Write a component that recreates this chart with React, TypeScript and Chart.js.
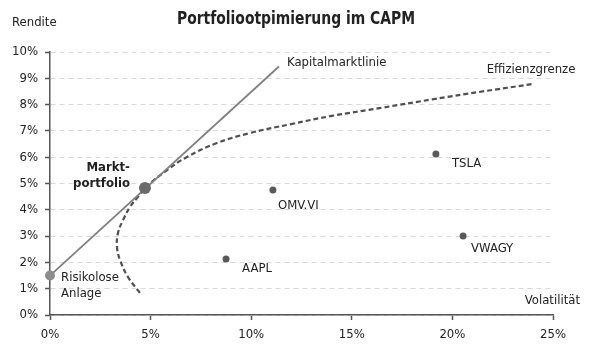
import React, { useEffect, useRef } from 'react';
import { Chart, registerables } from 'chart.js';

Chart.register(...registerables);

const FONT = '"DejaVu Sans Condensed", "DejaVu Sans", sans-serif';
const TITLE = 'Portfoliootpimierung im CAPM';

// Kapitalmarktlinie (Volatilität %, Rendite %)
const cmlX = [0, 11.38];
const cmlY = [1.5, 9.45];

// Effizienzgrenze
const frontierX = [4.47, 3.88, 3.48, 3.33, 3.38, 3.63, 3.98, 4.4, 4.72, 5.82, 6.81, 8.3, 9.94, 11.93, 14.0, 16.5, 19.0, 21.5, 23.96];
const frontierY = [0.84, 1.44, 2.09, 2.59, 3.12, 3.61, 4.11, 4.52, 4.83, 5.51, 6.01, 6.54, 6.92, 7.25, 7.57, 7.88, 8.2, 8.5, 8.78];

// Einzelaktien
const stockNames = ['AAPL', 'OMV.VI', 'TSLA', 'VWAGY'];
const stockX = [8.75, 11.08, 19.18, 20.53];
const stockY = [2.13, 4.75, 6.12, 3.0];

// Marktportfolio & risikolose Anlage
const marketX = [4.72];
const marketY = [4.83];
const riskFreeX = [0];
const riskFreeY = [1.5];

// Achsen
const xTickValues = [0, 5, 10, 15, 20, 25];
const yTickValues = [0, 1, 2, 3, 4, 5, 6, 7, 8, 9, 10];

const toPoints = (xs: number[], ys: number[]) => xs.map((x, i) => ({ x, y: ys[i] }));

type Label = { x: number; y: number; dx: number; dy: number; text: string; align: CanvasTextAlign; bold?: boolean };

const labels: Label[] = [
  { x: stockX[0], y: stockY[0], dx: 16, dy: 10, text: stockNames[0], align: 'left' },
  { x: stockX[1], y: stockY[1], dx: 5, dy: 16, text: stockNames[1], align: 'left' },
  { x: stockX[2], y: stockY[2], dx: 16, dy: 10, text: stockNames[2], align: 'left' },
  { x: stockX[3], y: stockY[3], dx: 8, dy: 13, text: stockNames[3], align: 'left' },
  { x: riskFreeX[0], y: riskFreeY[0], dx: 11, dy: 2, text: 'Risikolose', align: 'left' },
  { x: riskFreeX[0], y: riskFreeY[0], dx: 11, dy: 18, text: 'Anlage', align: 'left' },
  { x: marketX[0], y: marketY[0], dx: -15, dy: -20, text: 'Markt-', align: 'right', bold: true },
  { x: marketX[0], y: marketY[0], dx: -15, dy: -4, text: 'portfolio', align: 'right', bold: true },
  { x: cmlX[1], y: cmlY[1], dx: 8, dy: -4, text: 'Kapitalmarktlinie', align: 'left' },
  { x: frontierX[frontierX.length - 1], y: frontierY[frontierY.length - 1], dx: -1, dy: -14, text: 'Effizienzgrenze', align: 'center' },
];

const labelPlugin = {
  id: 'annotLabels',
  afterDraw(chart: any) {
    const { ctx, scales, chartArea, width } = chart;
    const xs = scales.x;
    const ys = scales.y;
    ctx.save();
    ctx.fillStyle = '#222';
    ctx.textBaseline = 'middle';
    for (const l of labels) {
      ctx.font = `${l.bold ? 'bold ' : ''}13px ${FONT}`;
      ctx.textAlign = l.align;
      ctx.fillText(l.text, xs.getPixelForValue(l.x) + l.dx, ys.getPixelForValue(l.y) + l.dy);
    }
    ctx.font = `13px ${FONT}`;
    ctx.textAlign = 'left';
    ctx.fillText('Rendite', 12, chartArea.top - 29);
    ctx.textAlign = 'right';
    ctx.fillText('Volatilität', chartArea.right + 27, chartArea.bottom - 14);
    // title
    ctx.font = `bold 17px ${FONT}`;
    ctx.textAlign = 'center';
    ctx.textBaseline = 'alphabetic';
    ctx.fillText(TITLE, width / 2 - 4, 24, 238);
    ctx.restore();
  },
};

export default function App() {
  const canvasRef = useRef<HTMLCanvasElement | null>(null);

  useEffect(() => {
    const canvas = canvasRef.current;
    if (!canvas) return;
    const chart = new Chart(canvas, {
      type: 'scatter',
      data: {
        datasets: [
          {
            label: 'Effizienzgrenze',
            data: toPoints(frontierX, frontierY),
            showLine: true,
            borderColor: '#505050',
            borderWidth: 2.2,
            borderDash: [5, 3],
            tension: 0.4,
            pointRadius: 0,
            clip: false as any,
            order: 3,
          },
          {
            label: 'Kapitalmarktlinie',
            data: toPoints(cmlX, cmlY),
            showLine: true,
            borderColor: '#808080',
            borderWidth: 1.8,
            pointRadius: 0,
            clip: false as any,
            order: 2,
          },
          {
            label: 'Aktien',
            data: toPoints(stockX, stockY),
            pointRadius: 3.5,
            pointBackgroundColor: '#5a5a5a',
            pointBorderWidth: 0,
            clip: false as any,
            order: 1,
          },
          {
            label: 'Marktportfolio',
            data: toPoints(marketX, marketY),
            pointRadius: 6,
            pointBackgroundColor: '#6a6a6a',
            pointBorderWidth: 0,
            clip: false as any,
            order: 0,
          },
          {
            label: 'Risikolose Anlage',
            data: toPoints(riskFreeX, riskFreeY),
            pointRadius: 5,
            pointBackgroundColor: '#8c8c8c',
            pointBorderWidth: 0,
            clip: false as any,
            order: 0,
          },
        ],
      },
      options: {
        animation: false,
        responsive: true,
        maintainAspectRatio: false,
        layout: { padding: { left: 0, right: 47, top: 52, bottom: 0 } },
        plugins: {
          legend: { display: false },
          tooltip: { enabled: false },
          title: { display: false, text: TITLE },
        },
        scales: {
          x: {
            type: 'linear',
            min: 0,
            max: 25,
            afterBuildTicks: (s: any) => {
              s.ticks = xTickValues.map((v) => ({ value: v }));
            },
            afterFit: (s: any) => {
              s.height = 39;
            },
            ticks: {
              callback: (v: any) => `${v}%`,
              color: '#222',
              font: { family: FONT, size: 13 },
              padding: 7,
              maxRotation: 0,
            },
            grid: { drawOnChartArea: false, drawTicks: true, tickLength: 5, tickColor: '#555', tickWidth: 1.5 },
            border: { color: '#555', width: 1.5 },
          },
          y: {
            type: 'linear',
            min: 0,
            max: 10,
            afterBuildTicks: (s: any) => {
              s.ticks = yTickValues.map((v) => ({ value: v }));
            },
            afterFit: (s: any) => {
              s.width = 50;
            },
            ticks: {
              callback: (v: any) => `${v}%`,
              color: '#222',
              font: { family: FONT, size: 13 },
              padding: 7,
            },
            grid: {
              drawOnChartArea: true,
              color: '#d9d9d9',
              lineWidth: 1,
              drawTicks: true,
              tickLength: 5,
              tickColor: '#555',
              tickWidth: 1.5,
            },
            border: { color: '#555', width: 1.5, dash: [5, 4] },
          },
        },
      },
      plugins: [labelPlugin],
    });
    return () => chart.destroy();
  }, []);

  return (
    <div style={{ position: 'fixed', left: 0, top: 0, width: 600, height: 354, background: '#fff' }}>
      <canvas ref={canvasRef} />
    </div>
  );
}
